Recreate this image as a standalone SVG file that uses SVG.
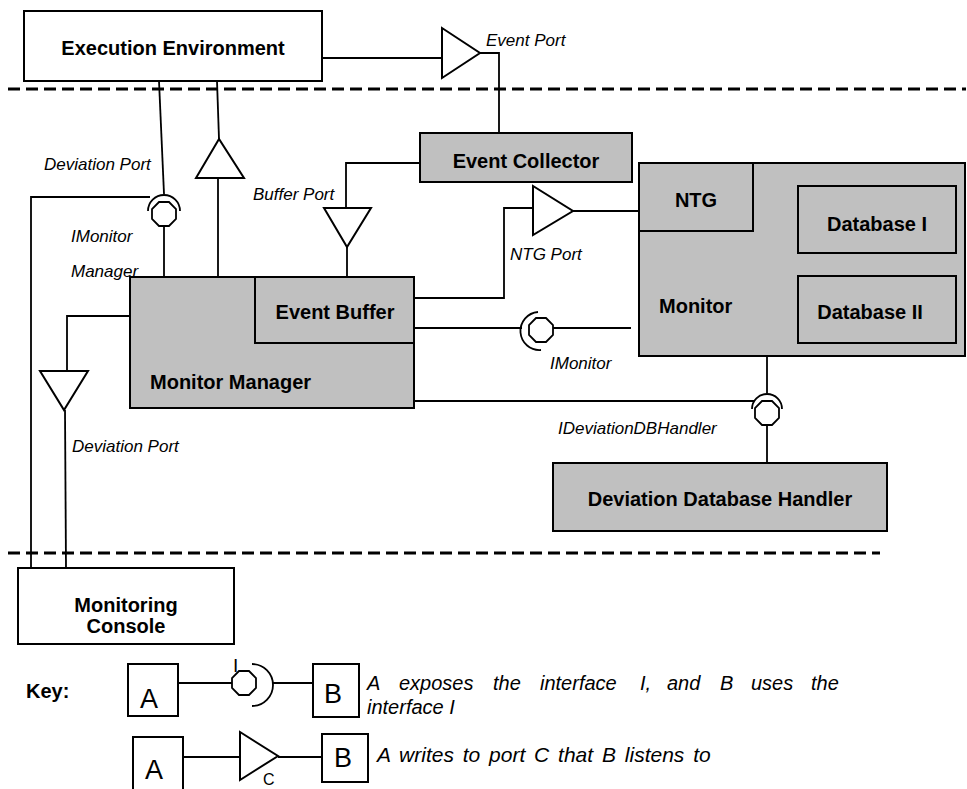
<svg xmlns="http://www.w3.org/2000/svg" width="967" height="789" viewBox="0 0 967 789">
<style>
.box{fill:#ffffff;stroke:#000;stroke-width:2}
.gbox{fill:#c0c0c0;stroke:#000;stroke-width:2}
.ln{fill:none;stroke:#000;stroke-width:1.8}
.port{fill:#fff;stroke:#000;stroke-width:2}
.dash{fill:none;stroke:#000;stroke-width:3.2;stroke-dasharray:12 6}
.b{font-family:"Liberation Sans",Arial,sans-serif;font-weight:bold;font-size:20px;fill:#000}
.i{font-family:"Liberation Sans",Arial,sans-serif;font-style:italic;font-size:17px;fill:#000}
.k{font-family:"Liberation Sans",Arial,sans-serif;font-style:italic;font-size:20px;fill:#000}
.r{font-family:"Liberation Sans",Arial,sans-serif;font-size:27px;fill:#000}
</style>
<defs>
<polygon id="oct" points="5,-12 12,-5 12,5 5,12 -5,12 -12,5 -12,-5 -5,-12" fill="#fff" stroke="#000" stroke-width="1.8"/>
</defs>

<g id="boundaries">
<line class="dash" x1="8" y1="89" x2="966" y2="89"/>
<line class="dash" x1="8" y1="553" x2="880" y2="553"/>
</g>

<g id="connectors">
<line class="ln" x1="322" y1="58" x2="442" y2="58"/>
<polyline class="ln" points="480,53 499,53 499,133"/>
<line class="ln" x1="159" y1="81" x2="164" y2="194"/>
<polyline class="ln" points="150,197 31,197 31,568"/>
<line class="ln" x1="164" y1="226" x2="164" y2="277"/>
<line class="ln" x1="217" y1="81" x2="219" y2="139"/>
<line class="ln" x1="218" y1="178" x2="218" y2="277"/>
<polyline class="ln" points="420,163 346,163 346,208"/>
<line class="ln" x1="347" y1="247" x2="347" y2="277"/>
<polyline class="ln" points="414,298 504,298 504,208 533,208"/>
<line class="ln" x1="573" y1="211" x2="641" y2="211"/>
<line class="ln" x1="414" y1="328" x2="522" y2="328"/>
<line class="ln" x1="553" y1="328" x2="631" y2="328"/>
<line class="ln" x1="414" y1="401" x2="754" y2="401"/>
<line class="ln" x1="767" y1="356" x2="767" y2="393"/>
<line class="ln" x1="767" y1="425" x2="767" y2="463"/>
<polyline class="ln" points="130,316 67,316 67,371"/>
<line class="ln" x1="65" y1="410" x2="66" y2="568"/>
</g>

<g id="ports">
<polygon class="port" points="442,28 442,78 480,53"/>
<polygon class="port" points="219,139 196,178 244,178"/>
<polygon class="port" points="324,208 371,208 347,247"/>
<polygon class="port" points="533,186 533,235 573,211"/>
<polygon class="port" points="40,371 88,371 64,410"/>
<path class="ln" d="M148,211 A16,16 0 0 1 180,211"/>
<use href="#oct" x="164" y="214"/>
<path class="ln" d="M538,312 A19,19 0 0 0 541,350"/>
<use href="#oct" x="541" y="330"/>
<path class="ln" d="M752,409 A15,15 0 0 1 782,409"/>
<use href="#oct" x="767" y="413"/>
</g>

<g id="execution-environment">
<rect class="box" x="24" y="11" width="298" height="70"/>
<text class="b" x="173" y="55" text-anchor="middle">Execution Environment</text>
</g>

<g id="event-collector">
<rect class="gbox" x="420" y="133" width="212" height="49"/>
<text class="b" x="526" y="168" text-anchor="middle">Event Collector</text>
</g>

<g id="monitor-manager">
<rect class="gbox" x="130" y="277" width="284" height="131"/>
<text class="b" x="150" y="389">Monitor Manager</text>
</g>

<g id="event-buffer">
<rect class="gbox" x="255" y="277" width="159" height="66"/>
<text class="b" x="335" y="319" text-anchor="middle">Event Buffer</text>
</g>

<g id="monitor">
<rect class="gbox" x="639" y="163" width="326" height="193"/>
<text class="b" x="659" y="313">Monitor</text>
</g>

<g id="ntg">
<rect class="gbox" x="639" y="163" width="114" height="68"/>
<text class="b" x="696" y="207" text-anchor="middle">NTG</text>
</g>

<g id="database-i">
<rect class="gbox" x="798" y="186" width="158" height="67"/>
<text class="b" x="877" y="231" text-anchor="middle">Database I</text>
</g>

<g id="database-ii">
<rect class="gbox" x="798" y="276" width="158" height="67"/>
<text class="b" x="870" y="319" text-anchor="middle">Database II</text>
</g>

<g id="deviation-database-handler">
<rect class="gbox" x="553" y="463" width="334" height="68"/>
<text class="b" x="720" y="506" text-anchor="middle">Deviation Database Handler</text>
</g>

<g id="monitoring-console">
<rect class="box" x="18" y="568" width="216" height="76"/>
<text class="b" x="126" y="612" text-anchor="middle">Monitoring</text>
<text class="b" x="126" y="633" text-anchor="middle">Console</text>
</g>

<g id="labels">
<text class="i" x="486" y="46">Event Port</text>
<text class="i" x="44" y="170">Deviation Port</text>
<text class="i" x="253" y="200">Buffer Port</text>
<text class="i" x="71" y="242">IMonitor</text>
<text class="i" x="71" y="277">Manager</text>
<text class="i" x="510" y="260">NTG Port</text>
<text class="i" x="550" y="369">IMonitor</text>
<text class="i" x="558" y="434">IDeviationDBHandler</text>
<text class="i" x="72" y="452">Deviation Port</text>
</g>

<g id="key">
<text class="b" x="26" y="698">Key:</text>
<rect class="box" x="128" y="664" width="50" height="52"/>
<text class="r" x="149" y="708" text-anchor="middle">A</text>
<line class="ln" x1="178" y1="683" x2="232" y2="683"/>
<use href="#oct" x="244" y="683"/>
<path class="ln" d="M252,664 A21,21 0 0 1 252,706"/>
<text font-family="Liberation Sans,Arial,sans-serif" font-size="19" x="233" y="672">I</text>
<line class="ln" x1="273" y1="683" x2="313" y2="683"/>
<rect class="box" x="313" y="664" width="46" height="53"/>
<text class="r" x="333" y="703" text-anchor="middle">B</text>
<text class="k" y="690"><tspan x="367">A</tspan><tspan x="399">exposes</tspan><tspan x="493">the</tspan><tspan x="540">interface</tspan><tspan x="640">I,</tspan><tspan x="667">and</tspan><tspan x="720">B</tspan><tspan x="751">uses</tspan><tspan x="811">the</tspan></text>
<text class="k" x="367" y="714">interface I</text>

<rect class="box" x="133" y="737" width="50" height="56"/>
<text class="r" x="154" y="779" text-anchor="middle">A</text>
<line class="ln" x1="183" y1="757" x2="240" y2="757"/>
<polygon class="port" points="240,732 240,780 278,756"/>
<text font-family="Liberation Sans,Arial,sans-serif" font-size="16" x="263" y="785">C</text>
<line class="ln" x1="278" y1="757" x2="322" y2="757"/>
<rect class="box" x="322" y="734" width="46" height="48"/>
<text class="r" x="343" y="767" text-anchor="middle">B</text>
<text class="k" x="377" y="762" style="font-size:21px;word-spacing:3px">A writes to port C that B listens to</text>
</g>
</svg>
